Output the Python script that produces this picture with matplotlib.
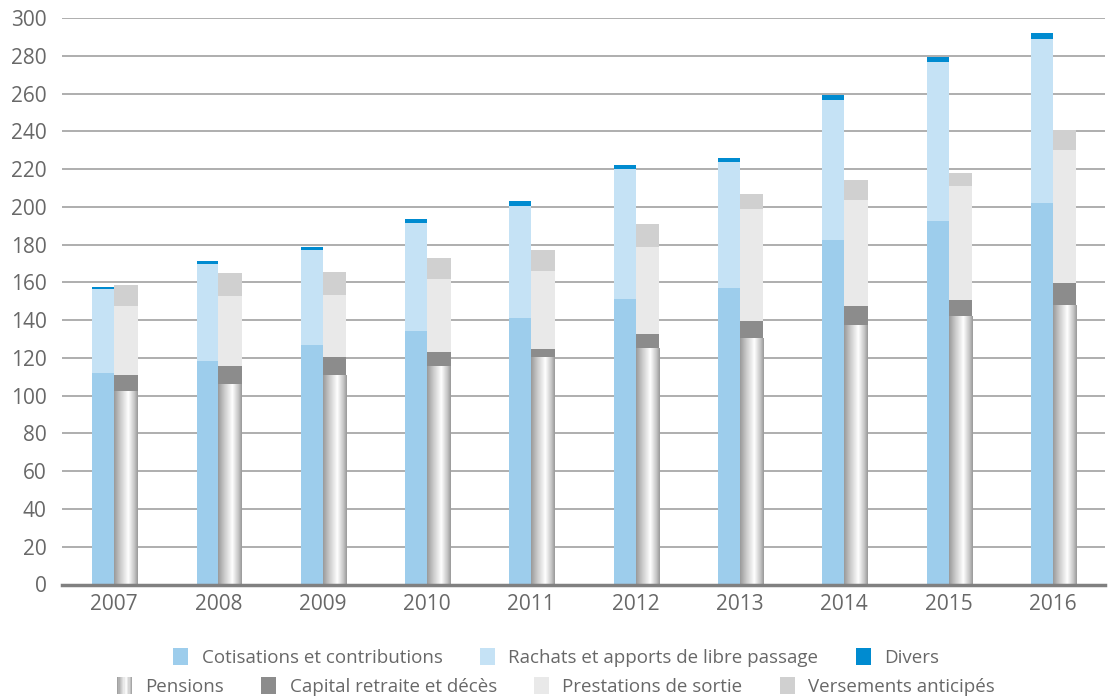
import matplotlib
matplotlib.use("Agg")
import matplotlib.pyplot as plt
import numpy as np
from matplotlib.patches import Rectangle
from matplotlib.legend_handler import HandlerBase
from matplotlib.colors import LinearSegmentedColormap

plt.rcParams['font.family'] = ['Open Sans', 'DejaVu Sans']

years = ['2007', '2008', '2009', '2010', '2011', '2012', '2013', '2014', '2015', '2016']
cotisations = [112, 118.5, 127, 134.5, 141, 151, 157, 182.5, 192.5, 202]
rachats = [44.5, 51, 50, 57, 59.5, 69, 67, 74, 84, 87]
divers = [1.3, 1.6, 1.6, 2.1, 2.6, 2.2, 2.0, 2.9, 2.8, 3.3]
pensions = [102, 105.7, 110.5, 115.3, 120, 124.8, 130, 137, 141.8, 147.5]
capital = [9, 10, 10, 8, 4.8, 8, 9.6, 10.6, 9, 12]
prestations = [36.6, 37, 32.8, 38.7, 41.3, 46, 59.3, 56, 60.4, 70.5]
versements = [11, 12.2, 12.2, 11.1, 11.2, 12.2, 8, 10.7, 6.8, 10.5]

c_cot = '#9dcdec'
c_rach = '#c5e2f5'
c_div = '#008bd0'
c_cap = '#8c8c8c'
c_prest = '#e9e9e9'
c_vers = '#d0d0d0'
txt = '#686868'

cyl = LinearSegmentedColormap.from_list('cyl', [(0, '#9a9a9a'), (0.25, '#c8c8c8'), (0.6, '#ffffff'), (0.85, '#c8c8c8'), (1, '#9a9a9a')])

fig = plt.figure(figsize=(11.12, 6.98), dpi=100)
ax = fig.add_axes([62/1112, (698-584.5)/698, (1105-62)/1112, (584.5-18)/698])

x = np.arange(len(years))
wl = 0.21
wr = 0.225

# left stacked bars
b1 = np.array(cotisations)
b2 = b1 + np.array(rachats)
ax.bar(x - wl, cotisations, width=wl, align='edge', color=c_cot, zorder=3)
ax.bar(x - wl, rachats, bottom=b1, width=wl, align='edge', color=c_rach, zorder=3)
ax.bar(x - wl, divers, bottom=b2, width=wl, align='edge', color=c_div, zorder=3)

# right stacked bars
p = np.array(pensions)
pc = p + np.array(capital)
pcp = pc + np.array(prestations)
pens_bars = ax.bar(x, pensions, width=wr, align='edge', color='none', zorder=3)
ax.bar(x, capital, bottom=p, width=wr, align='edge', color=c_cap, zorder=3)
ax.bar(x, prestations, bottom=pc, width=wr, align='edge', color=c_prest, zorder=3)
ax.bar(x, versements, bottom=pcp, width=wr, align='edge', color=c_vers, zorder=3)

grad = np.linspace(0, 1, 64).reshape(1, -1)
for bar in pens_bars:
    x0 = bar.get_x(); w = bar.get_width(); h = bar.get_height()
    ax.imshow(grad, cmap=cyl, aspect='auto', extent=(x0, x0 + w, 0, h), zorder=3, interpolation='bilinear')

ax.set_xlim(-0.5, len(years) - 0.5)
ax.set_ylim(0, 300)
ax.set_yticks(np.arange(0, 301, 20))
ax.set_xticks(x)
ax.set_xticklabels(years)
ax.tick_params(axis='both', length=0, labelsize=15, colors=txt)
ax.tick_params(axis='x', pad=7)
ax.tick_params(axis='y', pad=11)
ax.yaxis.grid(True, color='#a8a8a8', linewidth=1.3, zorder=0)
ax.set_axisbelow(True)
for s in ['top', 'right', 'left']:
    ax.spines[s].set_visible(False)
ax.spines['bottom'].set_color('#808080')
ax.spines['bottom'].set_linewidth(2.5)
ax.spines['bottom'].set_zorder(4)


class CylHandler(HandlerBase):
    def create_artists(self, legend, orig_handle, xdescent, ydescent, width, height, fontsize, trans):
        n = 12
        arts = []
        x0 = -xdescent
        for i in range(n):
            r = Rectangle((x0 + i * width / n, -ydescent - 0.1 * height), width / n + 0.2, height * 1.2,
                          facecolor=cyl((i + 0.5) / n), edgecolor='none', transform=trans)
            arts.append(r)
        return arts


class SqHandler(HandlerBase):
    def create_artists(self, legend, orig_handle, xdescent, ydescent, width, height, fontsize, trans):
        r = Rectangle((-xdescent, -ydescent - 0.1 * height), width, height * 1.2,
                      facecolor=orig_handle.get_facecolor(), edgecolor='none', transform=trans)
        return [r]


h1 = [Rectangle((0, 0), 1, 1, facecolor=c) for c in [c_cot, c_rach, c_div]]
l1 = ['Cotisations et contributions', 'Rachats et apports de libre passage', 'Divers']
h2 = [Rectangle((0, 0), 1, 1, facecolor='#cccccc')] + [Rectangle((0, 0), 1, 1, facecolor=c) for c in [c_cap, c_prest, c_vers]]
l2 = ['Pensions', 'Capital retraite et décès', 'Prestations de sortie', 'Versements anticipés']

hm = {h: SqHandler() for h in h1 + h2[1:]}
hm[h2[0]] = CylHandler()

common = dict(loc='center', frameon=False, fontsize=13.5, handler_map=hm, handlelength=0.8,
              handleheight=0.85, handletextpad=0.7, columnspacing=2.0, labelcolor=txt,
              borderaxespad=0, borderpad=0)
leg1 = fig.legend(h1, l1, bbox_to_anchor=(0.5, (698 - 658) / 698), ncol=3, **common)
leg2 = fig.legend(h2, l2, bbox_to_anchor=(0.5, (698 - 687) / 698), ncol=4, **common)

fig.savefig('out.png', dpi=100)
